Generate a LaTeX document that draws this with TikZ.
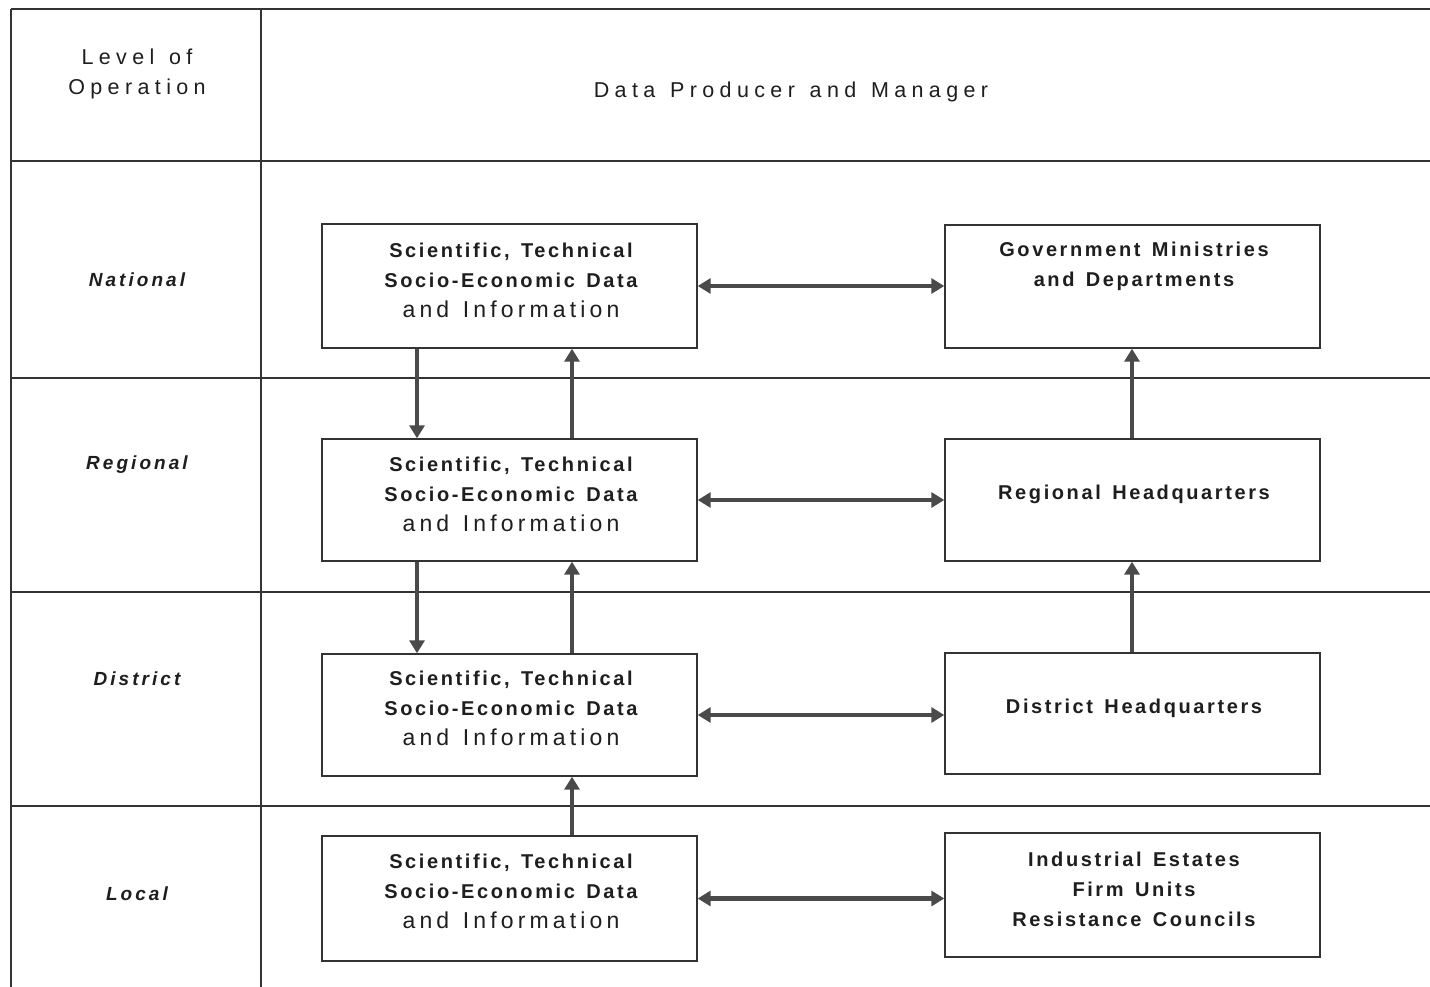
\documentclass[tikz,border=0pt]{standalone}
\usepackage{fontspec}
\setmainfont{Liberation Sans}
\newfontfamily\bspc[LetterSpace=13,WordSpace=1.4]{Liberation Sans}
\newfontfamily\lspc[LetterSpace=16]{Liberation Sans}
\newfontfamily\ispc[LetterSpace=18,WordSpace=1.3]{Liberation Sans}
\newfontfamily\hspc[LetterSpace=25,WordSpace=1.3]{Liberation Sans}
\usetikzlibrary{arrows.meta}

\definecolor{ink}{HTML}{1E1E1E}
\definecolor{rule}{HTML}{333333}
\definecolor{arrowgray}{HTML}{4A4A4A}

% larger third line of the data boxes
\newcommand\infoline{\ispc\mdseries\fontsize{23pt}{30pt}\selectfont}

\tikzset{
  gridline/.style={draw=rule, line width=1.4pt},
  box/.style={draw=rule, line width=1.4pt, minimum width=375pt, inner sep=0pt},
  boxtext/.style={text=ink, align=center, inner sep=0pt,
    font=\bspc\bfseries\fontsize{20pt}{30pt}\selectfont},
  levellabel/.style={text=ink, inner sep=0pt,
    font=\lspc\bfseries\itshape\fontsize{19pt}{20pt}\selectfont},
  headtext/.style={text=ink, align=center, inner sep=0pt,
    font=\hspc\fontsize{21.5pt}{30pt}\selectfont},
  arr/.style={draw=arrowgray, line width=4.4pt,
    -{Triangle[width=15pt,length=13pt]}},
  dblarr/.style={draw=arrowgray, line width=4.4pt,
    {Triangle[width=15pt,length=13pt]}-{Triangle[width=15pt,length=13pt]}}
}

\begin{document}
\begin{tikzpicture}[x=1pt, y=-1pt]
  \fill[white] (0,0) rectangle (1430,987);
  \useasboundingbox (0,0) rectangle (1430,987);

  % table frame
  \coordinate (tl) at (11,9);
  \coordinate (tr) at (1430,9);
  \coordinate (bl) at (11,987);
  \coordinate (cb) at (261,987);
  \coordinate (ct) at (261,9);
  \draw[gridline] (tl) -- (tr);
  \draw[gridline] (tl) -- (bl);
  \draw[gridline] (ct) -- (cb);
  \foreach \yy in {161,378,592,806}
    \draw[gridline] (11,\yy) -- (1430,\yy);

  % header row
  \node[headtext] (hlevel) at (137,74) {Level of\\Operation};
  \node[headtext] (hdata) at (791,92) {Data Producer and Manager};

  % level labels
  \node[levellabel] (lnat) at (137,280) {National};
  \node[levellabel] (lreg) at (137,465) {Regional};
  \node[levellabel] (ldis) at (137,679) {District};
  \node[levellabel] (lloc) at (137,894) {Local};

  % data boxes (left column)
  \node[box, minimum height=124pt] (dnat) at (509.5,286) {};
  \node[box, minimum height=122pt] (dreg) at (509.5,500) {};
  \node[box, minimum height=122pt] (ddis) at (509.5,715) {};
  \node[box, minimum height=125pt] (dloc) at (509.5,898.5) {};

  % agency boxes (right column)
  \node[box, minimum height=123pt] (gnat) at (1132.5,286.5) {};
  \node[box, minimum height=122pt] (greg) at (1132.5,500) {};
  \node[box, minimum height=121pt] (gdis) at (1132.5,713.5) {};
  \node[box, minimum height=124pt] (gloc) at (1132.5,895) {};

  % box texts
  \foreach \b/\yc in {dnat/280, dreg/494.5, ddis/708, dloc/891.5}
    \node[boxtext] (\b-t) at (511,\yc)
      {Scientific, Technical\\Socio-Economic Data\\{\infoline and Information}};
  \node[boxtext] (gnat-t) at (1134,266) {Government Ministries\\and Departments};
  \node[boxtext] (greg-t) at (1134,494) {Regional Headquarters};
  \node[boxtext] (gdis-t) at (1134,708) {District Headquarters};
  \node[boxtext] (gloc-t) at (1134,889.5) {Industrial Estates\\Firm Units\\Resistance Councils};

  % arrow columns
  \coordinate (xa) at (417,0);
  \coordinate (xb) at (572,0);
  \coordinate (xr) at (1132,0);

  % data flowing down and up between levels
  \draw[arr] (dnat.south -| xa) -- (dreg.north -| xa);
  \draw[arr] (dreg.north -| xb) -- (dnat.south -| xb);
  \draw[arr] (dreg.south -| xa) -- (ddis.north -| xa);
  \draw[arr] (ddis.north -| xb) -- (dreg.south -| xb);
  \draw[arr] (dloc.north -| xb) -- (ddis.south -| xb);

  % reporting chain of the agencies
  \draw[arr] (greg.north -| xr) -- (gnat.south -| xr);
  \draw[arr] (gdis.north -| xr) -- (greg.south -| xr);

  % exchange between data and agencies
  \draw[dblarr] (dnat.east) -- (dnat.east -| gnat.west);
  \draw[dblarr] (dreg.east) -- (dreg.east -| greg.west);
  \draw[dblarr] (ddis.east) -- (ddis.east -| gdis.west);
  \draw[dblarr] (dloc.east) -- (dloc.east -| gloc.west);
\end{tikzpicture}
\end{document}
